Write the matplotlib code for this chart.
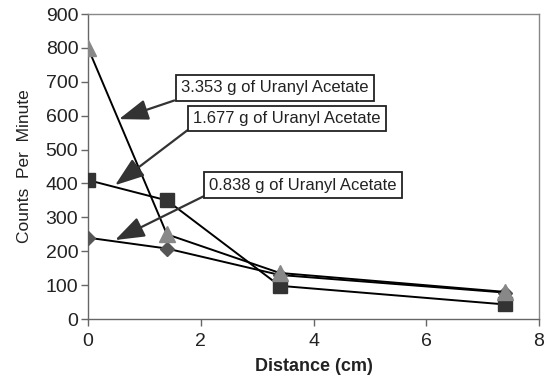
import matplotlib
matplotlib.use("Agg")
import matplotlib.pyplot as plt

plt.rcParams['font.family'] = ['Liberation Sans', 'DejaVu Sans']

distance = [0, 1.4, 3.4, 7.4]
cpm_3353 = [800, 250, 136, 80]
cpm_1677 = [410, 350, 98, 43]
cpm_0838 = [240, 208, 130, 78]

labels = ['3.353 g of Uranyl Acetate', '1.677 g of Uranyl Acetate', '0.838 g of Uranyl Acetate']
# annotation boxes: text left edge, arrow start, arrow tip (data coords)
box_xy = [(1.65, 682), (1.86, 592), (2.15, 395)]
arrow_from = [(1.53, 645), (1.77, 558), (2.06, 363)]
arrow_to = [(0.55, 590), (0.48, 395), (0.48, 233)]

fig = plt.figure(figsize=(5.45, 3.81), dpi=100)
ax = fig.add_axes([0.1615, 0.1627, 0.989 - 0.1615, 0.963 - 0.1627])

ax.plot(distance, cpm_0838, color='black', lw=1.4, marker='D', ms=7.5,
        mfc='#555555', mec='#555555', zorder=3)
ax.plot(distance, cpm_1677, color='black', lw=1.4, marker='s', ms=9.5,
        mfc='#333333', mec='#333333', zorder=4)
ax.plot(distance, cpm_3353, color='black', lw=1.4, marker='^', ms=11,
        mfc='#888888', mec='#888888', zorder=5)

for lab, bxy, a0, a1 in zip(labels, box_xy, arrow_from, arrow_to):
    ax.annotate('', xy=a1, xytext=a0,
                arrowprops=dict(arrowstyle='-|>,head_length=0.9,head_width=0.32',
                                mutation_scale=20, color='#333333', lw=1.6,
                                shrinkA=0, shrinkB=0), zorder=6)
    ax.text(bxy[0], bxy[1], lab, ha='left', va='center', fontsize=12, color='#222222',
            bbox=dict(boxstyle='square,pad=0.32', fc='white', ec='#222222', lw=1.3), zorder=7)

ax.set_xlim(0, 8)
ax.set_ylim(0, 900)
ax.set_xticks([0, 2, 4, 6, 8])
ax.set_yticks(range(0, 901, 100))
ax.tick_params(direction='out', length=5, width=1, color='#666666', labelsize=14,
               labelcolor='#222222')
ax.tick_params(axis='x', pad=5)
ax.tick_params(axis='y', pad=2)
for s in ax.spines.values():
    s.set_color('#888888')
    s.set_linewidth(1)
ax.spines['left'].set_color('#666666')
ax.spines['bottom'].set_color('#666666')

ax.set_xlabel('Distance (cm)', fontsize=13, fontweight='bold', color='#222222', labelpad=6)
ax.set_ylabel('Counts  Per  Minute', fontsize=12.5, color='#222222', labelpad=10)

fig.savefig('out.png', dpi=100)
